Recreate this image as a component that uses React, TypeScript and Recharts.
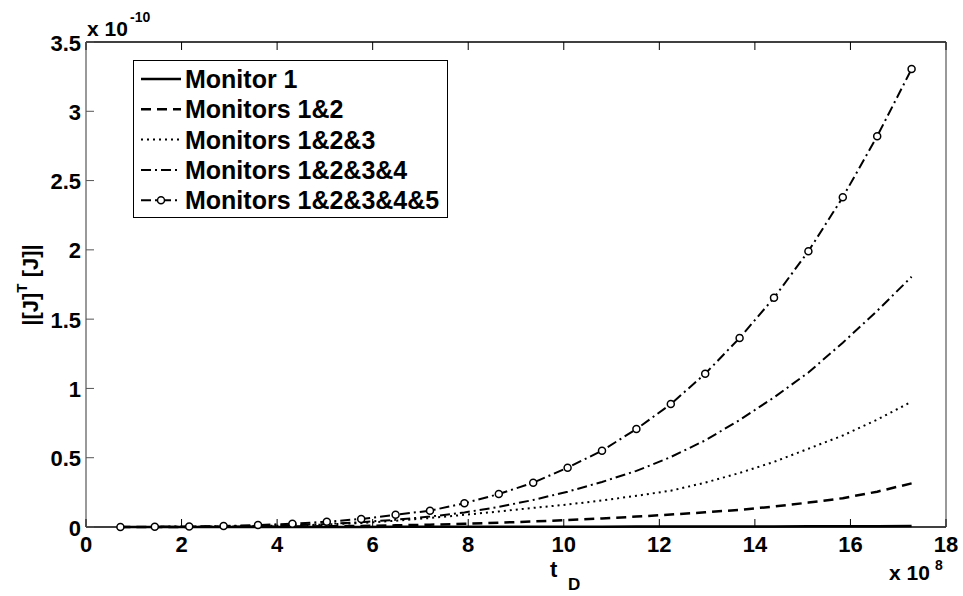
import React from 'react';
import { LineChart, Line, XAxis, YAxis, Legend } from 'recharts';

// t_D sample points (x 10^8)
const tD = [
  0.72, 1.44, 2.16, 2.88, 3.6, 4.32, 5.04, 5.76, 6.48, 7.2, 7.92, 8.64,
  9.36, 10.08, 10.8, 11.52, 12.24, 12.96, 13.68, 14.4, 15.12, 15.84, 16.56, 17.28,
];

// [J]^T [J] values (x 10^-10)
const monitor1 = [
  0, 0, 0, 0, 0, 0, 0, 0, 0.001, 0.001, 0.001, 0.001,
  0.002, 0.002, 0.002, 0.003, 0.003, 0.003, 0.004, 0.004, 0.005, 0.005, 0.006, 0.007,
];
const monitors12 = [
  0, 0, 0.001, 0.001, 0.002, 0.003, 0.005, 0.008, 0.012, 0.017, 0.023, 0.031,
  0.04, 0.05, 0.062, 0.075, 0.09, 0.106, 0.124, 0.148, 0.176, 0.208, 0.255, 0.315,
];
const monitors123 = [
  0, 0.001, 0.002, 0.004, 0.007, 0.011, 0.018, 0.029, 0.045, 0.065, 0.088, 0.112,
  0.138, 0.162, 0.192, 0.225, 0.262, 0.32, 0.39, 0.47, 0.565, 0.66, 0.775, 0.904,
];
const monitors1234 = [
  0, 0.001, 0.002, 0.004, 0.008, 0.013, 0.022, 0.035, 0.052, 0.075, 0.105, 0.145,
  0.195, 0.255, 0.325, 0.405, 0.505, 0.625, 0.772, 0.935, 1.115, 1.33, 1.56, 1.806,
];
const monitors12345 = [
  0, 0.001, 0.003, 0.007, 0.014, 0.024, 0.038, 0.058, 0.088, 0.118, 0.171, 0.238,
  0.32, 0.428, 0.551, 0.707, 0.887, 1.106, 1.364, 1.654, 1.99, 2.38, 2.82, 3.305,
];

const xTicks = [0, 2, 4, 6, 8, 10, 12, 14, 16, 18];
const yTicks = [0, 0.5, 1, 1.5, 2, 2.5, 3, 3.5];

const seriesNames = [
  'Monitor 1',
  'Monitors 1&2',
  'Monitors 1&2&3',
  'Monitors 1&2&3&4',
  'Monitors 1&2&3&4&5',
];

const data = tD.map((t, i) => ({
  t,
  m1: monitor1[i],
  m2: monitors12[i],
  m3: monitors123[i],
  m4: monitors1234[i],
  m5: monitors12345[i],
}));

const FONT = '"Liberation Sans", Arial, sans-serif';
const TICK_LEN = 8;

const styles = [
  { key: 'm1', dash: undefined, width: 2.5, marker: false },
  { key: 'm2', dash: '10 6', width: 2.5, marker: false },
  { key: 'm3', dash: '2 4', width: 2, marker: false },
  { key: 'm4', dash: '10 4 2 4', width: 2, marker: false },
  { key: 'm5', dash: '10 4 2 4', width: 2, marker: true },
];

const BottomTick = ({ x, y, payload }: any) => (
  <g>
    <line x1={x} y1={y} x2={x} y2={y - TICK_LEN} stroke="#000" strokeWidth={1} />
    <text
      x={x}
      y={y + 17}
      textAnchor="middle"
      dominantBaseline="central"
      fontFamily={FONT}
      fontWeight="bold"
      fontSize={22}
      fill="#000"
    >
      {payload.value}
    </text>
  </g>
);

const TopTick = ({ x, y }: any) => (
  <line x1={x} y1={y} x2={x} y2={y + TICK_LEN} stroke="#000" strokeWidth={1} />
);

const LeftTick = ({ x, y, payload }: any) => (
  <g>
    <line x1={x} y1={y} x2={x + TICK_LEN} y2={y} stroke="#555" strokeWidth={1} />
    <text
      x={x - 5}
      y={y + 1}
      textAnchor="end"
      dominantBaseline="central"
      fontFamily={FONT}
      fontWeight="bold"
      fontSize={22}
      fill="#000"
    >
      {payload.value}
    </text>
  </g>
);

const RightTick = ({ x, y }: any) => (
  <line x1={x} y1={y} x2={x - TICK_LEN} y2={y} stroke="#555" strokeWidth={1} />
);

const LegendBox = () => (
  <div
    style={{
      width: 315,
      height: 158,
      border: '1px solid #000',
      background: '#fff',
      boxSizing: 'border-box',
    }}
  >
    <svg width={313} height={156} style={{ display: 'block' }}>
      {seriesNames.map((name, i) => {
        const s = styles[i];
        const cy = 18 + i * 30.3;
        return (
          <g key={name}>
            <line
              x1={7}
              x2={47}
              y1={cy}
              y2={cy}
              stroke="#000"
              strokeWidth={s.width}
              strokeDasharray={s.dash}
            />
            {s.marker && <circle cx={27} cy={cy} r={3.5} fill="#fff" stroke="#000" strokeWidth={1.5} />}
            <text
              x={51}
              y={cy + 9}
              fontFamily={FONT}
              fontWeight="bold"
              fontSize={25}
              fill="#000"
            >
              {name}
            </text>
          </g>
        );
      })}
    </svg>
  </div>
);

export default function App() {
  return (
    <div style={{ position: 'absolute', left: 0, top: 0, width: 963, height: 596, background: '#fff' }}>
      <LineChart
        width={963}
        height={596}
        data={data}
        margin={{ top: 0, right: 0, bottom: 0, left: 0 }}
      >
        <XAxis
          xAxisId="b"
          dataKey="t"
          type="number"
          domain={[0, 18]}
          ticks={xTicks}
          height={69}
          axisLine={{ stroke: '#000', strokeWidth: 1.5 }}
          tickLine={false}
          tickSize={0}
          tickMargin={0}
          tick={<BottomTick />}
          interval={0}
        />
        <XAxis
          xAxisId="t"
          orientation="top"
          dataKey="t"
          type="number"
          domain={[0, 18]}
          ticks={xTicks}
          height={42}
          axisLine={{ stroke: '#000', strokeWidth: 1.5 }}
          tickLine={false}
          tickSize={0}
          tickMargin={0}
          tick={<TopTick />}
          interval={0}
        />
        <YAxis
          yAxisId="l"
          type="number"
          domain={[0, 3.5]}
          ticks={yTicks}
          width={86}
          axisLine={{ stroke: '#777', strokeWidth: 1.5 }}
          tickLine={false}
          tickSize={0}
          tickMargin={0}
          tick={<LeftTick />}
          interval={0}
        />
        <YAxis
          yAxisId="r"
          orientation="right"
          type="number"
          domain={[0, 3.5]}
          ticks={yTicks}
          width={17}
          axisLine={{ stroke: '#777', strokeWidth: 1.5 }}
          tickLine={false}
          tickSize={0}
          tickMargin={0}
          tick={<RightTick />}
          interval={0}
        />
        <Legend
          layout="horizontal"
          verticalAlign="middle"
          align="center"
          content={<LegendBox />}
          wrapperStyle={{ left: 133, top: 60, width: 315, height: 158 }}
        />
        {styles.map((s, i) => (
          <Line
            key={s.key}
            xAxisId="b"
            yAxisId="l"
            type="linear"
            dataKey={s.key}
            name={seriesNames[i]}
            stroke="#000"
            strokeWidth={s.width}
            strokeDasharray={s.dash}
            dot={
              s.marker
                ? { r: 3.5, fill: '#fff', stroke: '#000', strokeWidth: 1.5, strokeDasharray: 'none' }
                : false
            }
            activeDot={false}
            isAnimationActive={false}
          />
        ))}
      </LineChart>
      <svg
        width={963}
        height={596}
        style={{ position: 'absolute', left: 0, top: 0, pointerEvents: 'none' }}
      >
        <g fontFamily={FONT} fontWeight="bold" fill="#000">
          <text x={87} y={36} fontSize={21}>x 10</text>
          <text x={130} y={22} fontSize={14}>-10</text>
          <text x={889} y={580} fontSize={21}>x 10</text>
          <text x={935} y={570} fontSize={14}>8</text>
          <text x={550} y={577} fontSize={22}>t</text>
          <text x={568} y={590} fontSize={17}>D</text>
          <text x={30} y={285} fontSize={22} textAnchor="middle" dominantBaseline="central" transform="rotate(-90 30 285)">
            |[J]<tspan fontSize={15} dy={-9}>T</tspan><tspan dy={9}> [J]|</tspan>
          </text>
        </g>
      </svg>
    </div>
  );
}
